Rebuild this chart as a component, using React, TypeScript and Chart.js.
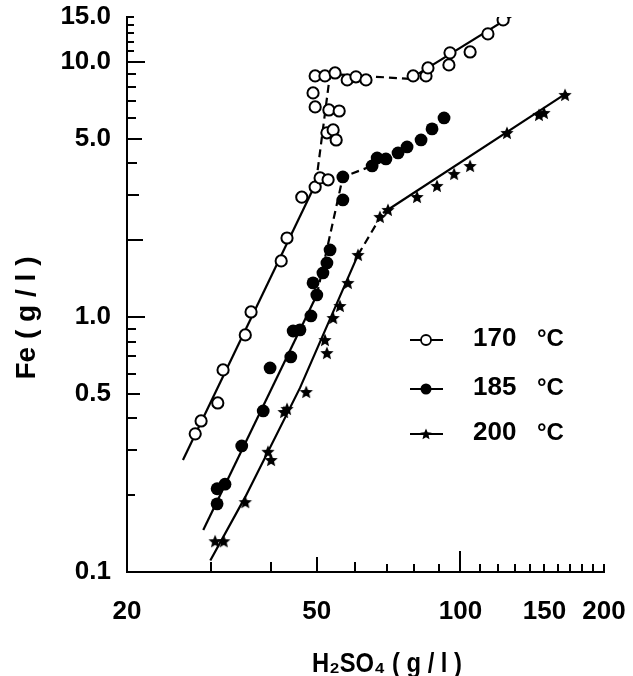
import React, { useEffect, useRef } from "react";
import { Chart, registerables } from "chart.js";

Chart.register(...registerables);

// ---- axis ticks ----
const xTickValues = [20, 50, 100, 150, 200];
const yTickValues = [0.1, 0.5, 1, 5, 10, 15];
const xMinorTicks = [30, 40, 50, 60, 70, 80, 90, 100, 110, 120, 130, 140, 150, 160, 170, 180, 190, 200];
const xMinorLengths = [10, 10, 15, 10, 8, 8, 8, 21, 8, 8, 8, 8, 8, 8, 8, 8, 8, 8];
const yMinorTicks = [0.2, 0.3, 0.4, 0.5, 0.6, 0.7, 0.8, 0.9, 1, 2, 3, 4, 5, 6, 7, 8, 9, 10, 11, 12, 13, 14, 15];
const yMinorLengths = [8, 10, 10, 13, 9, 9, 9, 9, 18, 16, 12, 10, 15, 9, 9, 9, 9, 18, 7, 7, 7, 7, 7];

// ---- labels ----
const xTitle = "H₂SO₄ ( g / l )";
const yTitle = "Fe ( g / l )";
const seriesLabels = ["170", "185", "200"];
const unitLabel = "°C";

// ---- measured points (H2SO4 g/l, Fe g/l) ----
const pts170: [number, number][] = [
  [27.8, 0.348], [28.6, 0.391], [31.0, 0.46], [31.8, 0.62], [35.4, 0.85], [36.4, 1.046],
  [42.1, 1.658], [43.3, 2.04], [46.5, 2.95], [49.6, 3.23], [50.8, 3.51], [52.8, 3.45],
  [52.5, 5.27], [54.1, 5.41], [54.9, 4.94], [49.6, 6.66], [53.0, 6.48], [55.7, 6.42], [49.1, 7.56],
  [49.6, 8.81], [52.0, 8.81], [54.6, 9.05], [57.9, 8.5], [60.4, 8.74], [63.4, 8.5],
  [79.6, 8.81], [84.7, 8.81], [85.5, 9.47], [94.6, 9.73], [95.1, 10.85], [104.8, 10.94],
  [114.2, 12.88], [122.9, 14.61],
];
const pts185: [number, number][] = [
  [30.9, 0.185], [30.9, 0.212], [32.1, 0.221], [34.8, 0.312], [38.6, 0.428], [39.9, 0.631],
  [44.1, 0.697], [44.6, 0.881], [46.1, 0.89], [48.6, 1.009], [50.0, 1.22], [49.1, 1.36],
  [51.5, 1.488], [52.5, 1.628], [53.3, 1.831], [56.7, 2.876], [56.7, 3.54], [65.3, 3.909],
  [66.9, 4.203], [69.8, 4.165], [74.0, 4.397], [77.3, 4.642], [82.7, 4.944], [87.2, 5.462],
  [92.4, 6.031],
];
const pts200: [number, number][] = [
  [30.6, 0.132], [31.9, 0.132], [35.4, 0.188], [39.5, 0.296], [40.1, 0.275], [42.7, 0.424],
  [43.3, 0.436], [47.5, 0.508], [52.0, 0.812], [52.5, 0.722], [54.1, 0.991], [55.9, 1.104],
  [58.1, 1.36], [61.0, 1.751], [67.8, 2.467], [70.5, 2.628], [81.1, 2.955], [89.3, 3.264],
  [97.0, 3.638], [104.8, 3.909], [125.2, 5.267], [146.1, 6.196], [149.7, 6.31], [165.7, 7.425],
];

// ---- fitted curves (vertices) and which segments are dashed ----
const line170: [number, number][] = [[26.2, 0.275], [49.8, 3.35], [53.3, 8.97], [78.4, 8.58], [130, 15.4]];
const dash170 = [false, true, true, false];
const line185: [number, number][] = [[28.9, 0.146], [50.0, 1.22], [56.7, 3.54], [65.3, 3.909]];
const dash185 = [false, true, true];
const line200: [number, number][] = [[29.9, 0.111], [35.4, 0.197], [46.1, 0.527], [61.0, 1.751], [68.8, 2.557], [167.3, 7.56]];
const dash200 = [false, false, false, true, false];

const FONT = "'Liberation Sans', Arial, Helvetica, sans-serif";
const DASH = [8, 5];

function makeStar(r: number): HTMLCanvasElement {
  const size = Math.ceil(r * 2 + 2);
  const c = document.createElement("canvas");
  c.width = size;
  c.height = size;
  const g = c.getContext("2d")!;
  g.translate(size / 2, size / 2 + 0.5);
  g.beginPath();
  for (let i = 0; i < 10; i++) {
    const rad = i % 2 === 0 ? r : r * 0.45;
    const a = -Math.PI / 2 + (i * Math.PI) / 5;
    g.lineTo(rad * Math.cos(a), rad * Math.sin(a));
  }
  g.closePath();
  g.fillStyle = "#000";
  g.fill();
  return c;
}

const toXY = (arr: [number, number][]) => arr.map(([x, y]) => ({ x, y }));

export default function App() {
  const ref = useRef<HTMLCanvasElement | null>(null);

  useEffect(() => {
    if (!ref.current) return;
    const star = makeStar(7);
    const starSmall = makeStar(6);

    const lineDs = (data: [number, number][], dashes: boolean[]) => ({
      data: toXY(data),
      showLine: true,
      pointRadius: 0,
      borderColor: "#000",
      borderWidth: 2.2,
      fill: false,
      tension: 0,
      order: 2,
      segment: {
        borderDash: (ctx: any) => (dashes[ctx.p0DataIndex] ? DASH : undefined),
      },
    });

    const decorPlugin = {
      id: "decor",
      afterDraw(chart: any) {
        const ctx = chart.ctx as CanvasRenderingContext2D;
        const xs = chart.scales.x;
        const ys = chart.scales.y;
        const area = chart.chartArea;
        ctx.save();
        ctx.strokeStyle = "#000";
        ctx.lineWidth = 2;
        // inward tick marks
        xMinorTicks.forEach((v, i) => {
          const px = Math.round(xs.getPixelForValue(v));
          ctx.beginPath();
          ctx.moveTo(px, area.bottom);
          ctx.lineTo(px, area.bottom - xMinorLengths[i]);
          ctx.stroke();
        });
        yMinorTicks.forEach((v, i) => {
          const py = Math.round(ys.getPixelForValue(v));
          ctx.beginPath();
          ctx.moveTo(area.left, py);
          ctx.lineTo(area.left + yMinorLengths[i], py);
          ctx.stroke();
        });

        // axis titles (condensed)
        ctx.fillStyle = "#000";
        ctx.font = `bold 28px ${FONT}`;
        ctx.textBaseline = "alphabetic";
        ctx.textAlign = "center";
        let w = ctx.measureText(xTitle).width;
        ctx.save();
        ctx.translate(387, 672);
        ctx.scale(150 / w, 1);
        ctx.fillText(xTitle, 0, 0);
        ctx.restore();
        w = ctx.measureText(yTitle).width;
        ctx.save();
        ctx.translate(35, 318);
        ctx.rotate(-Math.PI / 2);
        ctx.scale(123 / w, 1);
        ctx.fillText(yTitle, 0, 0);
        ctx.restore();

        // legend
        const rows = [340, 389, 434];
        const sx0 = 410;
        const sx1 = 443;
        const mx = 426;
        seriesLabels.forEach((lab, i) => {
          const y = rows[i];
          ctx.strokeStyle = "#000";
          ctx.lineWidth = 2;
          ctx.beginPath();
          ctx.moveTo(sx0, y);
          ctx.lineTo(sx1, y);
          ctx.stroke();
          if (i === 0) {
            ctx.beginPath();
            ctx.arc(mx, y, 5, 0, Math.PI * 2);
            ctx.fillStyle = "#fff";
            ctx.fill();
            ctx.lineWidth = 1.8;
            ctx.stroke();
          } else if (i === 1) {
            ctx.beginPath();
            ctx.arc(mx, y, 5.5, 0, Math.PI * 2);
            ctx.fillStyle = "#000";
            ctx.fill();
          } else {
            ctx.drawImage(starSmall, mx - starSmall.width / 2, y - starSmall.height / 2);
          }
          ctx.fillStyle = "#000";
          ctx.font = `bold 26px ${FONT}`;
          ctx.textAlign = "left";
          ctx.textBaseline = "middle";
          ctx.fillText(lab, 473, y - 1);
          ctx.font = `bold 24px ${FONT}`;
          ctx.fillText(unitLabel, 537, y - 1);
        });
        ctx.restore();
      },
    };

    const chart = new Chart(ref.current, {
      type: "scatter",
      data: {
        datasets: [
          {
            label: seriesLabels[0],
            data: toXY(pts170),
            pointStyle: "circle",
            pointRadius: 5.6,
            pointBackgroundColor: "#fff",
            pointBorderColor: "#000",
            pointBorderWidth: 2,
            showLine: false,
            order: 0,
          },
          {
            label: seriesLabels[1],
            data: toXY(pts185),
            pointStyle: "circle",
            pointRadius: 6.4,
            pointBackgroundColor: "#000",
            pointBorderColor: "#000",
            pointBorderWidth: 0,
            showLine: false,
            order: 0,
          },
          {
            label: seriesLabels[2],
            data: toXY(pts200),
            pointStyle: star,
            pointRadius: 7,
            showLine: false,
            order: 0,
          },
          lineDs(line170, dash170) as any,
          lineDs(line185, dash185) as any,
          lineDs(line200, dash200) as any,
        ],
      },
      options: {
        animation: false,
        responsive: false,
        maintainAspectRatio: false,
        layout: { padding: { top: 17, right: 29, bottom: 0, left: 0 } },
        plugins: {
          legend: { display: false },
          tooltip: { enabled: false },
          title: { display: false },
        },
        scales: {
          x: {
            type: "logarithmic",
            min: 20,
            max: 200,
            afterBuildTicks: (s: any) => {
              s.ticks = xTickValues.map((v) => ({ value: v }));
            },
            afterFit: (s: any) => {
              s.height = 104;
              s.paddingLeft = 0;
              s.paddingRight = 0;
            },
            grid: { display: false, drawTicks: false },
            border: { display: true, color: "#000", width: 2 },
            ticks: {
              autoSkip: false,
              maxRotation: 0,
              padding: 24,
              color: "#000",
              font: { family: FONT, size: 26, weight: "bold" },
              callback: (v: any) => String(v),
            },
          },
          y: {
            type: "logarithmic",
            min: 0.1,
            max: 15,
            afterBuildTicks: (s: any) => {
              s.ticks = yTickValues.map((v) => ({ value: v }));
            },
            afterFit: (s: any) => {
              s.width = 127;
              s.paddingTop = 0;
              s.paddingBottom = 0;
            },
            grid: { display: false, drawTicks: false },
            border: { display: true, color: "#000", width: 2 },
            ticks: {
              autoSkip: false,
              padding: 16,
              color: "#000",
              font: { family: FONT, size: 26, weight: "bold" },
              callback: (v: any) => Number(v).toFixed(1),
            },
          },
        },
      },
      plugins: [decorPlugin],
    } as any);

    return () => chart.destroy();
  }, []);

  return (
    <div style={{ position: "absolute", left: 0, top: 0, width: 633, height: 676, background: "#fff" }}>
      <canvas ref={ref} width={633} height={676} style={{ width: 633, height: 676, display: "block" }} />
    </div>
  );
}
